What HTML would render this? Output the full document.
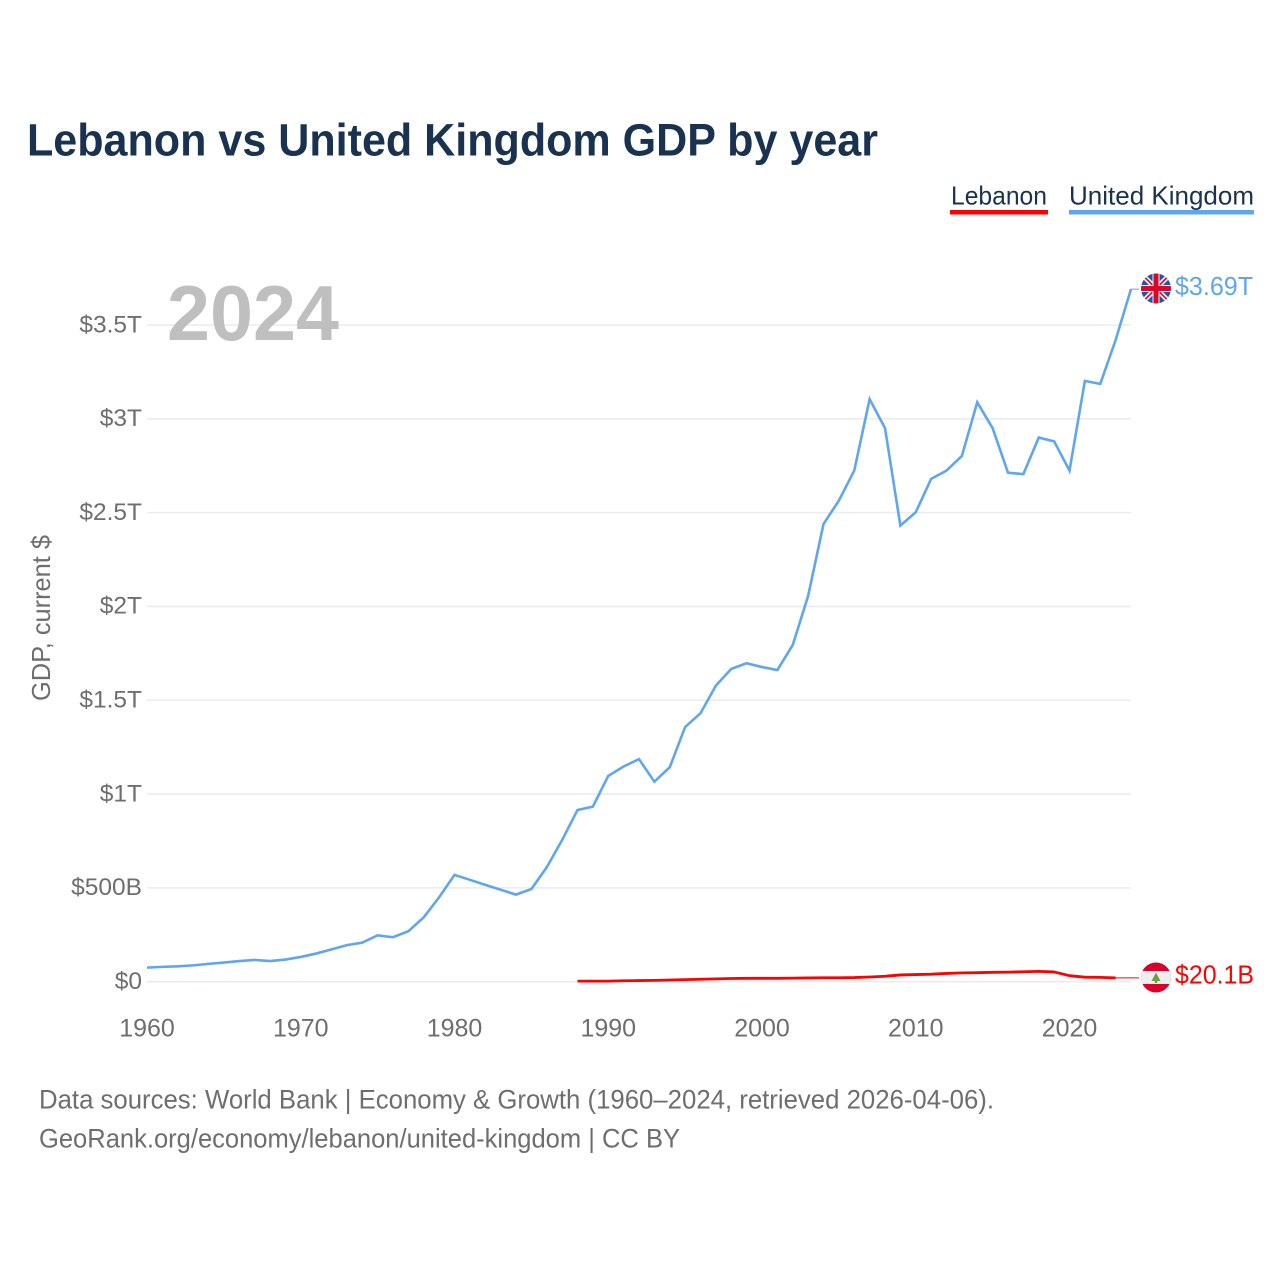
<!DOCTYPE html>
<html lang="en">
<head>
<meta charset="utf-8">
<title>Lebanon vs United Kingdom GDP by year</title>
<style>
html,body{margin:0;padding:0;background:#fff;}
svg{display:block;font-family:"Liberation Sans",sans-serif;}
</style>
</head>
<body>
<svg id="chart" xmlns="http://www.w3.org/2000/svg" width="1280" height="1280" viewBox="0 0 1280 1280">
  <defs>
    <clipPath id="flag-clip-uk"><circle cx="1156" cy="288.5" r="15"/></clipPath>
    <clipPath id="flag-clip-lb"><circle cx="1156" cy="977.5" r="15"/></clipPath>
  </defs>
  <rect width="1280" height="1280" fill="#fff"/>
  <text x="27" y="155.5" font-size="45" font-weight="700" fill="#18324f" textLength="851" lengthAdjust="spacingAndGlyphs">Lebanon vs United Kingdom GDP by year</text>

  <g>
    <g>
      <text x="951" y="204.5" font-size="26" fill="#18324f" textLength="96" lengthAdjust="spacingAndGlyphs">Lebanon</text>
      <rect x="950" y="210" width="98" height="4.5" fill="#ff0000"/>
    </g>
    <g>
      <text x="1069" y="204.5" font-size="26" fill="#18324f" textLength="185" lengthAdjust="spacingAndGlyphs">United Kingdom</text>
      <rect x="1069" y="210" width="185" height="4.5" fill="#5fa6ee"/>
    </g>
  </g>

  <g id="grid"></g>
  <g id="y-axis"></g>
  <g id="x-axis"></g>

  <text transform="translate(50,618) rotate(-90)" text-anchor="middle" font-size="26" fill="#6e6e6e" textLength="166" lengthAdjust="spacingAndGlyphs">GDP, current $</text>

  <text x="167" y="340" font-size="78" font-weight="700" fill="#bfbfbf" textLength="172" lengthAdjust="spacingAndGlyphs">2024</text>

  <g id="series"></g>

  <g clip-path="url(#flag-clip-uk)">
    <rect x="1141" y="273.5" width="30" height="30" fill="#1f56a8"/>
    <path d="M1141 273.5L1171 303.5M1171 273.5L1141 303.5" stroke="#f2f2f2" stroke-width="5"/>
    <path d="M1141 273.5L1171 303.5M1171 273.5L1141 303.5" stroke="#d8072c" stroke-width="1.6"/>
    <path d="M1156 273.5V303.5M1141 288.5H1171" stroke="#f2f2f2" stroke-width="7"/>
    <path d="M1156 273.5V303.5M1141 288.5H1171" stroke="#d8072c" stroke-width="5"/>
  </g>
  <text x="1175" y="295" font-size="26" fill="#5fa6ee" textLength="78" lengthAdjust="spacingAndGlyphs">$3.69T</text>

  <g clip-path="url(#flag-clip-lb)">
    <rect x="1141" y="962.5" width="30" height="30" fill="#d8002c"/>
    <rect x="1141" y="971" width="30" height="13" fill="#eeeeee"/>
    <path d="M1156 972.5L1160.5 981H1157.2V983H1154.8V981H1151.5Z" fill="#6f9e3f"/>
  </g>
  <text x="1175" y="983.5" font-size="26" fill="#ff0000" textLength="79" lengthAdjust="spacingAndGlyphs">$20.1B</text>

  <g>
    <text x="39" y="1108.5" font-size="27" fill="#6e6e6e" textLength="955" lengthAdjust="spacingAndGlyphs">Data sources: World Bank | Economy &amp; Growth (1960–2024, retrieved 2026-04-06).</text>
    <text x="39" y="1147.5" font-size="27" fill="#6e6e6e" textLength="641" lengthAdjust="spacingAndGlyphs">GeoRank.org/economy/lebanon/united-kingdom | CC BY</text>
  </g>
</svg>
<script>
var yTickValues = [0, 500, 1000, 1500, 2000, 2500, 3000, 3500];
var yTickLabels = ["$0", "$500B", "$1T", "$1.5T", "$2T", "$2.5T", "$3T", "$3.5T"];
var xTickYears = [1960, 1970, 1980, 1990, 2000, 2010, 2020];
var xTickLabels = ["1960", "1970", "1980", "1990", "2000", "2010", "2020"];

var ukYears = [1960,1961,1962,1963,1964,1965,1966,1967,1968,1969,1970,1971,1972,1973,1974,1975,1976,1977,1978,1979,1980,1981,1982,1983,1984,1985,1986,1987,1988,1989,1990,1991,1992,1993,1994,1995,1996,1997,1998,1999,2000,2001,2002,2003,2004,2005,2006,2007,2008,2009,2010,2011,2012,2013,2014,2015,2016,2017,2018,2019,2020,2021,2022,2023,2024];
var ukGdpBillions = [75,79,82,87,95,102,110,116,110,118,132,150,172,195,208,247,237,269,343,450,569,543,516,490,464,494,610,755,915,933,1097,1147,1186,1066,1143,1357,1431,1578,1667,1697,1677,1661,1795,2056,2439,2564,2724,3105,2950,2431,2502,2680,2724,2802,3088,2950,2713,2705,2900,2880,2724,3202,3186,3420,3691];

var lebanonYears = [1988,1989,1990,1991,1992,1993,1994,1995,1996,1997,1998,1999,2000,2001,2002,2003,2004,2005,2006,2007,2008,2009,2010,2011,2012,2013,2014,2015,2016,2017,2018,2019,2020,2021,2022,2023];
var lebanonGdpBillions = [3,3,3,5,6,7,9,11,13,15,17,18,18,18,19,20,21,21,22,25,29,36,38,40,44,47,48,50,51,53,55,52,32,24,23,20.1];

function xScale(year) { return 147 + (year - 1960) * (1131 - 147) / (2024 - 1960); }
function yScale(billions) { return 981.7 - billions * (981.7 - 325) / 3500; }

var NS = "http://www.w3.org/2000/svg";
function make(tag, parent, attrs, text) {
  var el = document.createElementNS(NS, tag);
  for (var k in attrs) { el.setAttribute(k, attrs[k]); }
  if (text !== undefined) { el.textContent = text; }
  parent.appendChild(el);
  return el;
}

var grid = document.getElementById("grid");
var yAxis = document.getElementById("y-axis");
var xAxis = document.getElementById("x-axis");
var series = document.getElementById("series");

yTickValues.forEach(function (v, i) {
  var line = make("line", grid, {x1: 147, x2: 1131, y1: yScale(v), y2: yScale(v), stroke: "#ececec", "stroke-width": 1.6});
  
  
  var label = make("text", yAxis, {x: 142, y: yScale(v) + 7.3, "text-anchor": "end", "font-size": 24.5, fill: "#6e6e6e"}, yTickLabels[i]);
  
  
});

xTickYears.forEach(function (year, i) {
  var label = make("text", xAxis, {x: xScale(year), y: 1036.5, "text-anchor": "middle", "font-size": 25, fill: "#6e6e6e"}, xTickLabels[i]);
  
  
});

function pointsOf(years, values) {
  return years.map(function (year, i) { return xScale(year).toFixed(2) + "," + yScale(values[i]).toFixed(2); }).join(" ");
}

var ukLine = make("polyline", series, {points: pointsOf(ukYears, ukGdpBillions), fill: "none", stroke: "#5fa6ee", "stroke-width": 2.6, "stroke-linejoin": "miter"});



var lebLine = make("polyline", series, {points: pointsOf(lebanonYears, lebanonGdpBillions), fill: "none", stroke: "#ff0000", "stroke-width": 2.8, "stroke-linejoin": "round"});



var ukLastY = yScale(ukGdpBillions[ukGdpBillions.length - 1]);
var ukLeader = make("line", series, {x1: xScale(ukYears[ukYears.length - 1]), x2: 1139, y1: ukLastY, y2: ukLastY, stroke: "#5fa6ee", "stroke-width": 1});



var lebLastY = yScale(lebanonGdpBillions[lebanonGdpBillions.length - 1]);
var lebLeader = make("line", series, {x1: xScale(lebanonYears[lebanonYears.length - 1]), x2: 1139, y1: lebLastY, y2: lebLastY, stroke: "#ff0000", "stroke-width": 1});


</script>
</body>
</html>
